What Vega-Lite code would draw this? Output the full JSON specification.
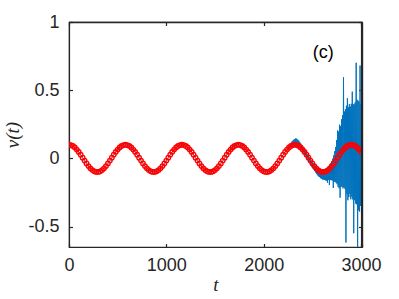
{
  "$schema": "https://vega.github.io/schema/vega-lite/v6.json",
  "width": 293,
  "height": 225,
  "autosize": "none",
  "padding": {"left": 69, "top": 22, "right": 37, "bottom": 52},
  "background": "white",
  "config": {
    "view": {"stroke": "#262626", "strokeWidth": 1.2},
    "axis": {
      "grid": false,
      "domainColor": "#262626",
      "domainWidth": 1.2,
      "tickColor": "#262626",
      "tickWidth": 1.2,
      "tickSize": -3.5,
      "labelColor": "#262626",
      "labelFont": "Liberation Sans",
      "labelFontSize": 18,
      "titleFont": "Liberation Serif",
      "titleFontStyle": "italic",
      "titleFontWeight": "normal",
      "titleFontSize": 19,
      "titleColor": "#262626"
    }
  },
  "datasets": {
    "analytic": [
      {"t":0,"v":0.1},{"t":20,"v":0.0977},{"t":40,"v":0.0908},{"t":60,"v":0.0796},{"t":80,"v":0.0647},{"t":100,"v":0.0468},{"t":120,"v":0.0268},{"t":140,"v":0.0054},{"t":160,"v":-0.0162},{"t":180,"v":-0.037},{"t":200,"v":-0.0561},{"t":220,"v":-0.0726},{"t":240,"v":-0.0857},{"t":260,"v":-0.0948},{"t":280,"v":-0.0994},{"t":300,"v":-0.0994},{"t":320,"v":-0.0948},{"t":340,"v":-0.0857},{"t":360,"v":-0.0726},{"t":380,"v":-0.0561},{"t":400,"v":-0.037},{"t":420,"v":-0.0162},{"t":440,"v":0.0054},{"t":460,"v":0.0268},{"t":480,"v":0.0468},{"t":500,"v":0.0647},{"t":520,"v":0.0796},{"t":540,"v":0.0908},{"t":560,"v":0.0977},
      {"t":580,"v":0.1},{"t":600,"v":0.0977},{"t":620,"v":0.0908},{"t":640,"v":0.0796},{"t":660,"v":0.0647},{"t":680,"v":0.0468},{"t":700,"v":0.0268},{"t":720,"v":0.0054},{"t":740,"v":-0.0162},{"t":760,"v":-0.037},{"t":780,"v":-0.0561},{"t":800,"v":-0.0726},{"t":820,"v":-0.0857},{"t":840,"v":-0.0948},{"t":860,"v":-0.0994},{"t":880,"v":-0.0994},{"t":900,"v":-0.0948},{"t":920,"v":-0.0857},{"t":940,"v":-0.0726},{"t":960,"v":-0.0561},{"t":980,"v":-0.037},{"t":1000,"v":-0.0162},{"t":1020,"v":0.0054},{"t":1040,"v":0.0268},{"t":1060,"v":0.0468},{"t":1080,"v":0.0647},{"t":1100,"v":0.0796},{"t":1120,"v":0.0908},{"t":1140,"v":0.0977},
      {"t":1160,"v":0.1},{"t":1180,"v":0.0977},{"t":1200,"v":0.0908},{"t":1220,"v":0.0796},{"t":1240,"v":0.0647},{"t":1260,"v":0.0468},{"t":1280,"v":0.0268},{"t":1300,"v":0.0054},{"t":1320,"v":-0.0162},{"t":1340,"v":-0.037},{"t":1360,"v":-0.0561},{"t":1380,"v":-0.0726},{"t":1400,"v":-0.0857},{"t":1420,"v":-0.0948},{"t":1440,"v":-0.0994},{"t":1460,"v":-0.0994},{"t":1480,"v":-0.0948},{"t":1500,"v":-0.0857},{"t":1520,"v":-0.0726},{"t":1540,"v":-0.0561},{"t":1560,"v":-0.037},{"t":1580,"v":-0.0162},{"t":1600,"v":0.0054},{"t":1620,"v":0.0268},{"t":1640,"v":0.0468},{"t":1660,"v":0.0647},{"t":1680,"v":0.0796},{"t":1700,"v":0.0908},{"t":1720,"v":0.0977},
      {"t":1740,"v":0.1},{"t":1760,"v":0.0977},{"t":1780,"v":0.0908},{"t":1800,"v":0.0796},{"t":1820,"v":0.0647},{"t":1840,"v":0.0468},{"t":1860,"v":0.0268},{"t":1880,"v":0.0054},{"t":1900,"v":-0.0162},{"t":1920,"v":-0.037},{"t":1940,"v":-0.0561},{"t":1960,"v":-0.0726},{"t":1980,"v":-0.0857},{"t":2000,"v":-0.0948},{"t":2020,"v":-0.0994},{"t":2040,"v":-0.0994},{"t":2060,"v":-0.0948},{"t":2080,"v":-0.0857},{"t":2100,"v":-0.0726},{"t":2120,"v":-0.0561},{"t":2140,"v":-0.037},{"t":2160,"v":-0.0162},{"t":2180,"v":0.0054},{"t":2200,"v":0.0268},{"t":2220,"v":0.0468},{"t":2240,"v":0.0647},{"t":2260,"v":0.0796},{"t":2280,"v":0.0908},{"t":2300,"v":0.0977},
      {"t":2320,"v":0.1},{"t":2340,"v":0.0977},{"t":2360,"v":0.0908},{"t":2380,"v":0.0796},{"t":2400,"v":0.0647},{"t":2420,"v":0.0468},{"t":2440,"v":0.0268},{"t":2460,"v":0.0054},{"t":2480,"v":-0.0162},{"t":2500,"v":-0.037},{"t":2520,"v":-0.0561},{"t":2540,"v":-0.0726},{"t":2560,"v":-0.0857},{"t":2580,"v":-0.0948},{"t":2600,"v":-0.0994},{"t":2620,"v":-0.0994},{"t":2640,"v":-0.0948},{"t":2660,"v":-0.0857},{"t":2680,"v":-0.0726},{"t":2700,"v":-0.0561},{"t":2720,"v":-0.037},{"t":2740,"v":-0.0162},{"t":2760,"v":0.0054},{"t":2780,"v":0.0268},{"t":2800,"v":0.0468},{"t":2820,"v":0.0647},{"t":2840,"v":0.0796},{"t":2860,"v":0.0908},{"t":2880,"v":0.0977},
      {"t":2900,"v":0.1},{"t":2920,"v":0.0977},{"t":2940,"v":0.0908},{"t":2960,"v":0.0796},{"t":2980,"v":0.0647},{"t":3000,"v":0.0468}
    ],
    "noisy": [
      {"t":2240,"v":0.065},{"t":2245,"v":0.065},{"t":2250,"v":0.081},{"t":2255,"v":0.071},{"t":2260,"v":0.092},{"t":2265,"v":0.077},{"t":2270,"v":0.104},{"t":2275,"v":0.08},{"t":2280,"v":0.113},{"t":2285,"v":0.083},{"t":2290,"v":0.123},{"t":2295,"v":0.086},{"t":2300,"v":0.13},{"t":2305,"v":0.087},{"t":2310,"v":0.137},{"t":2315,"v":0.09},{"t":2320,"v":0.142},{"t":2325,"v":0.088},{"t":2330,"v":0.147},{"t":2335,"v":0.089},{"t":2340,"v":0.143},{"t":2345,"v":0.084},{"t":2350,"v":0.137},{"t":2355,"v":0.081},{"t":2360,"v":0.131},{"t":2365,"v":0.074},{"t":2370,"v":0.121},{"t":2375,"v":0.069},{"t":2380,"v":0.11},{"t":2385,"v":0.061},{"t":2390,"v":0.099},{"t":2395,"v":0.053},
      {"t":2400,"v":0.087},{"t":2405,"v":0.042},{"t":2410,"v":0.076},{"t":2415,"v":0.034},{"t":2420,"v":0.065},{"t":2425,"v":0.022},{"t":2430,"v":0.053},{"t":2435,"v":0.012},{"t":2440,"v":0.042},{"t":2445,"v":-0.001},{"t":2450,"v":0.03},{"t":2455,"v":-0.011},{"t":2460,"v":0.017},{"t":2465,"v":-0.024},{"t":2470,"v":0.007},{"t":2475,"v":-0.036},{"t":2480,"v":-0.004},{"t":2485,"v":-0.048},{"t":2490,"v":-0.015},{"t":2495,"v":-0.06},
      {"t":2500,"v":-0.025},{"t":2505,"v":-0.072},{"t":2510,"v":-0.035},{"t":2515,"v":-0.082},{"t":2520,"v":-0.044},{"t":2525,"v":-0.094},{"t":2530,"v":-0.053},{"t":2535,"v":-0.105},{"t":2540,"v":-0.061},{"t":2545,"v":-0.116},{"t":2550,"v":-0.068},{"t":2555,"v":-0.125},{"t":2560,"v":-0.074},{"t":2565,"v":-0.133},{"t":2570,"v":-0.079},{"t":2575,"v":-0.138},{"t":2580,"v":-0.083},{"t":2585,"v":-0.146},{"t":2590,"v":-0.086},{"t":2595,"v":-0.149},
      {"t":2600,"v":-0.085},{"t":2605,"v":-0.155},{"t":2610,"v":-0.086},{"t":2615,"v":-0.155},{"t":2620,"v":-0.084},{"t":2625,"v":-0.159},{"t":2630,"v":-0.082},{"t":2635,"v":-0.161},{"t":2640,"v":-0.077},{"t":2645,"v":-0.163},{"t":2650,"v":-0.071},{"t":2655,"v":-0.178},{"t":2660,"v":-0.064},{"t":2665,"v":-0.158},{"t":2670,"v":-0.055},{"t":2675,"v":-0.196},{"t":2680,"v":-0.045},{"t":2685,"v":-0.159},{"t":2690,"v":-0.035},{"t":2695,"v":-0.16},
      {"t":2700,"v":-0.021},{"t":2705,"v":-0.162},{"t":2710,"v":-0.002},{"t":2715,"v":-0.217},{"t":2720,"v":0.023},{"t":2725,"v":-0.172},{"t":2730,"v":0.053},{"t":2735,"v":-0.172},{"t":2740,"v":0.084},{"t":2745,"v":-0.181},{"t":2750,"v":0.135},{"t":2755,"v":-0.19},{"t":2760,"v":0.205},{"t":2765,"v":-0.209},{"t":2770,"v":0.196},{"t":2775,"v":-0.219},{"t":2780,"v":0.247},{"t":2785,"v":-0.288},{"t":2790,"v":0.237},{"t":2795,"v":-0.208},
      {"t":2800,"v":0.287},{"t":2805,"v":-0.209},{"t":2810,"v":0.316},{"t":2815,"v":-0.22},{"t":2820,"v":0.595},{"t":2825,"v":-0.211},{"t":2830,"v":0.343},{"t":2835,"v":-0.224},{"t":2840,"v":0.36},{"t":2845,"v":-0.617},{"t":2850,"v":0.386},{"t":2855,"v":-0.262},{"t":2860,"v":0.441},{"t":2865,"v":-0.307},{"t":2870,"v":0.375},{"t":2875,"v":-0.284},{"t":2880,"v":0.398},{"t":2885,"v":-0.261},{"t":2890,"v":0.379},{"t":2895,"v":-0.3},
      {"t":2900,"v":0.4},{"t":2905,"v":-0.28},{"t":2910,"v":0.489},{"t":2915,"v":-0.301},{"t":2920,"v":0.398},{"t":2925,"v":-0.549},{"t":2930,"v":0.395},{"t":2935,"v":-0.307},{"t":2940,"v":0.411},{"t":2945,"v":-0.332},{"t":2950,"v":0.701},{"t":2955,"v":-0.337},{"t":2960,"v":0.43},{"t":2965,"v":-0.674},{"t":2970,"v":0.423},{"t":2975,"v":-0.381},{"t":2980,"v":0.415},{"t":2985,"v":-0.39},{"t":2990,"v":0.681},{"t":2995,"v":-0.349},
      {"t":3000,"v":0.397},{"t":3005,"v":-0.258},{"t":3010,"v":0.287}
    ]
  },
  "resolve": {"scale": {"x": "independent", "y": "independent"}, "axis": {"x": "independent", "y": "independent"}},
  "layer": [
    {
      "data": {"name": "analytic"},
      "transform": [{"filter": "datum.t <= 2240"}],
      "mark": {"type": "line", "color": "#0072BD", "strokeWidth": 1, "clip": true},
      "encoding": {
        "x": {"field": "t", "type": "quantitative", "scale": {"domain": [0, 3010], "nice": false, "zero": false},
              "axis": {"orient": "bottom", "values": [0, 1000, 2000, 3000, 3010], "format": "d", "labelExpr": "datum.value == 3010 ? '' : datum.label", "title": "t", "labelPadding": 13, "titlePadding": 1, "labelFlush": false,
                       "grid": true, "gridWidth": 1.2, "gridColor": {"condition": {"test": "datum.value == 3010", "value": "#262626"}, "value": "transparent"}}},
        "y": {"field": "v", "type": "quantitative", "scale": {"domain": [-0.65, 1], "nice": false, "zero": false},
              "axis": {"orient": "left", "values": [-0.5, 0, 0.5, 1], "format": "~g", "labelExpr": "replace(datum.label, '\u2212', '-')", "title": "v(t)", "labelPadding": 13.5, "titlePadding": 5, "labelFlush": false,
                       "grid": true, "gridWidth": 1.2, "gridColor": {"condition": {"test": "datum.value == 1", "value": "#262626"}, "value": "transparent"}}}
      }
    },
    {
      "data": {"name": "noisy"},
      "mark": {"type": "line", "color": "#0072BD", "strokeWidth": 1, "clip": true},
      "encoding": {
        "x": {"field": "t", "type": "quantitative", "scale": {"domain": [0, 3010], "nice": false, "zero": false}, "axis": null},
        "y": {"field": "v", "type": "quantitative", "scale": {"domain": [-0.65, 1], "nice": false, "zero": false}, "axis": null}
      }
    },
    {
      "data": {"name": "analytic"},
      "mark": {"type": "point", "shape": "circle", "filled": false, "color": "#FF0000", "size": 20, "strokeWidth": 1.3, "opacity": 1, "clip": true},
      "encoding": {
        "x": {"field": "t", "type": "quantitative", "scale": {"domain": [0, 3010], "nice": false, "zero": false}, "axis": null},
        "y": {"field": "v", "type": "quantitative", "scale": {"domain": [-0.65, 1], "nice": false, "zero": false}, "axis": null}
      }
    },
    {
      "data": {"values": [{"edge": "top"}]},
      "mark": {"type": "rule", "color": "#262626", "strokeWidth": 1.4},
      "encoding": {
        "y": {"datum": 0.996, "type": "quantitative", "scale": {"domain": [-0.65, 1], "nice": false, "zero": false},
              "axis": {"orient": "right", "values": [-0.5, 0, 0.5, 1], "labels": false, "title": null, "domain": true}}
      }
    },
    {
      "data": {"values": [{"edge": "right"}]},
      "mark": {"type": "rule", "color": "#262626", "strokeWidth": 1.4},
      "encoding": {
        "x": {"datum": 3006, "type": "quantitative", "scale": {"domain": [0, 3010], "nice": false, "zero": false},
              "axis": {"orient": "top", "values": [0, 1000, 2000, 3000], "labels": false, "title": null, "domain": true}}
      }
    },
    {
      "data": {"values": [{"t": 2613, "v": 0.775, "label": "(c)"}]},
      "mark": {"type": "text", "font": "Liberation Sans", "fontSize": 18, "color": "#000000", "align": "center", "baseline": "middle"},
      "encoding": {
        "x": {"field": "t", "type": "quantitative", "scale": {"domain": [0, 3010], "nice": false, "zero": false}, "axis": null},
        "y": {"field": "v", "type": "quantitative", "scale": {"domain": [-0.65, 1], "nice": false, "zero": false}, "axis": null},
        "text": {"field": "label"}
      }
    }
  ]
}
